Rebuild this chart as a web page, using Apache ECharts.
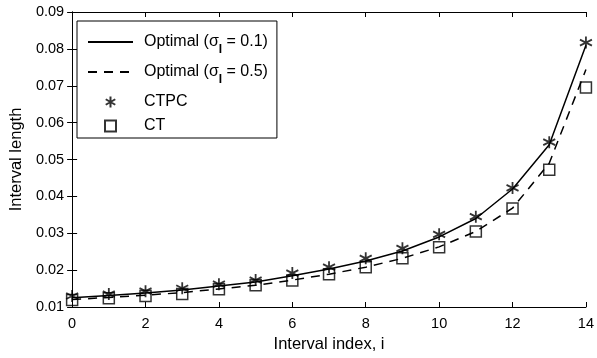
<!DOCTYPE html>
<html>
<head>
<meta charset="utf-8">
<script src="https://cdn.jsdelivr.net/npm/echarts@6/dist/echarts.min.js"></script>
<style>
  html, body { margin: 0; padding: 0; background: #ffffff; }
  #chart { width: 597px; height: 358px; }
</style>
</head>
<body>
<div id="chart"></div>
<script>
const intervalIndex = [0, 1, 2, 3, 4, 5, 6, 7, 8, 9, 10, 11, 12, 13, 14];

// optimal interval lengths, sigma_I = 0.1 (solid) and 0.5 (dashed)
const optimalSigma01 = [0.0125, 0.0131, 0.0138, 0.0146, 0.0157, 0.0168, 0.0185, 0.0203, 0.0225, 0.0252, 0.0290, 0.0340, 0.0420, 0.0540, 0.0810];
const optimalSigma05 = [0.0120, 0.0126, 0.0132, 0.0139, 0.0149, 0.0159, 0.0173, 0.0189, 0.0208, 0.0232, 0.0263, 0.0305, 0.0368, 0.0490, 0.0744];

// markers
const ctpcValues = [0.0130, 0.0135, 0.0143, 0.0151, 0.0162, 0.0173, 0.0192, 0.0208, 0.0232, 0.0259, 0.0297, 0.0345, 0.0423, 0.0547, 0.0817];
const ctValues = [0.0119, 0.0124, 0.0130, 0.0135, 0.0148, 0.0159, 0.0172, 0.0189, 0.0208, 0.0232, 0.0262, 0.0305, 0.0367, 0.0472, 0.0695];

const xTicks = [0, 2, 4, 6, 8, 10, 12, 14];
const yTicks = [0.01, 0.02, 0.03, 0.04, 0.05, 0.06, 0.07, 0.08, 0.09];

const seriesNames = ["Optimal (σI = 0.1)", "Optimal (σI = 0.5)", "CTPC", "CT"];

const FONT = "Liberation Sans, Arial, Helvetica, sans-serif";
const STAR = "path://M0,-5L0,5M-4.33,-2.5L4.33,2.5M-4.33,2.5L4.33,-2.5";
const SQUARE = "path://M0,0L10,0L10,10L0,10Z";

function pairs(values) {
    return intervalIndex.map((x, k) => [x, values[k]]);
}

function legendLabel(name) {
    if (name.indexOf("σI") >= 0) {
        const parts = name.split("σI");
        return "{g|}{n|" + parts[0] + "σ}{s|I}{n|" + parts[1] + "}";
    }
    return "{g|}{n|" + name + "}";
}

const chart = echarts.init(document.getElementById("chart"));

const axisLine = { show: true, lineStyle: { color: "#000000", width: 1 } };
const axisTick = { show: true, inside: true, length: 5, lineStyle: { color: "#000000" } };
const transparent = "rgba(0,0,0,0)";

chart.setOption({
    animation: false,
    grid: {
        left: 71,
        right: 8,
        top: 12,
        bottom: 49
    },
    legend: {
        orient: "vertical",
        left: 77,
        top: 21,
        padding: [13, 9, 4, 10],
        itemGap: 8,
        itemWidth: 45,
        itemHeight: 11,
        borderColor: "#000000",
        borderWidth: 1,
        backgroundColor: "#ffffff",
        data: [
            { name: seriesNames[0] },
            { name: seriesNames[1] },
            { name: seriesNames[2], icon: STAR },
            { name: seriesNames[3], icon: SQUARE }
        ],
        formatter: legendLabel,
        textStyle: {
            rich: {
                g: { width: 6 },
                n: { fontFamily: FONT, fontSize: 16, color: "#000000" },
                s: { fontFamily: FONT, fontSize: 12, fontWeight: "bold", color: "#000000", padding: [16, 0, 0, 0] }
            }
        }
    },
    xAxis: [
        {
            type: "value",
            min: 0,
            max: 14,
            interval: 2,
            name: "Interval index, i",
            nameLocation: "middle",
            nameGap: 29,
            nameTextStyle: { fontFamily: FONT, fontSize: 16.5, color: "#000000" },
            axisLine: axisLine,
            axisTick: axisTick,
            axisLabel: {
                fontFamily: FONT, fontSize: 14.5, color: "#000000", margin: 9,
                formatter: v => (xTicks.indexOf(v) >= 0 ? String(v) : "")
            },
            splitLine: { show: false }
        },
        {
            type: "value",
            position: "top",
            min: 0,
            max: 14,
            interval: 2,
            axisLine: axisLine,
            axisTick: axisTick,
            axisLabel: { show: false },
            splitLine: { show: false }
        }
    ],
    yAxis: [
        {
            type: "value",
            min: 0.01,
            max: 0.09,
            interval: 0.01,
            name: "Interval length",
            nameLocation: "middle",
            nameGap: 39,
            nameTextStyle: { fontFamily: FONT, fontSize: 16.5, color: "#000000" },
            axisLine: axisLine,
            axisTick: axisTick,
            axisLabel: {
                fontFamily: FONT, fontSize: 14.5, color: "#000000", margin: 8,
                formatter: v => {
                    const t = yTicks.find(y => Math.abs(y - v) < 1e-9);
                    return t === undefined ? "" : t.toFixed(2);
                }
            },
            splitLine: { show: false }
        },
        {
            type: "value",
            position: "right",
            min: 0.01,
            max: 0.09,
            interval: 0.01,
            axisLine: axisLine,
            axisTick: axisTick,
            axisLabel: { show: false },
            splitLine: { show: false }
        }
    ],
    series: [
        {
            name: seriesNames[0],
            type: "line",
            data: pairs(optimalSigma01),
            symbol: "circle",
            showSymbol: false,
            lineStyle: { color: "#000000", width: 1.5, type: "solid" },
            itemStyle: { color: transparent, borderColor: transparent },
            z: 2
        },
        {
            name: seriesNames[1],
            type: "line",
            data: pairs(optimalSigma05),
            symbol: "circle",
            showSymbol: false,
            lineStyle: { color: "#000000", width: 1.5, type: [9, 7] },
            itemStyle: { color: transparent, borderColor: transparent },
            z: 2
        },
        {
            name: seriesNames[2],
            type: "scatter",
            data: pairs(ctpcValues),
            symbol: STAR,
            symbolSize: 12,
            itemStyle: { color: "none", borderColor: "#000000", borderWidth: 1.8 },
            z: 3
        },
        {
            name: seriesNames[3],
            type: "scatter",
            data: pairs(ctValues),
            symbol: "rect",
            symbolSize: 11,
            itemStyle: { color: transparent, borderColor: "#000000", borderWidth: 1.5 },
            z: 3
        }
    ]
});
</script>
</body>
</html>
